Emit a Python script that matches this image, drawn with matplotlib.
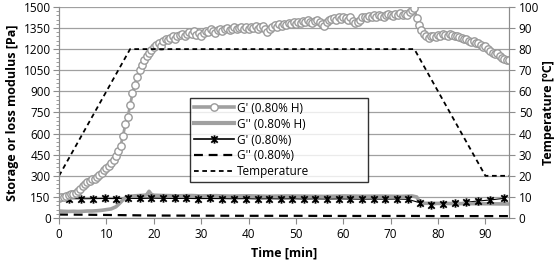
import numpy as np
import matplotlib
matplotlib.use("Agg")
import matplotlib.pyplot as plt
from matplotlib.path import Path
from matplotlib.lines import Line2D

# G' (0.80% H), sampled every 0.5 min from 0 to 95 min
gp_h_step = 0.5
gp_h = [140, 148, 152, 158, 163, 168, 172, 178, 190, 205,
        225, 240, 255, 265, 275, 280, 290, 305, 320, 340,
        355, 372, 390, 410, 440, 475, 515, 585, 665, 720,
        800, 885, 945, 1005, 1050, 1090, 1125, 1150, 1170, 1195,
        1215, 1230, 1245, 1225, 1255, 1270, 1262, 1280, 1290, 1275,
        1295, 1300, 1310, 1290, 1305, 1320, 1310, 1330, 1300, 1315,
        1290, 1315, 1330, 1320, 1340, 1330, 1315, 1335, 1345, 1330,
        1340, 1350, 1335, 1345, 1355, 1340, 1350, 1360, 1345, 1355,
        1340, 1360, 1350, 1365, 1345, 1355, 1365, 1340, 1320, 1345,
        1360, 1370, 1355, 1375, 1365, 1380, 1370, 1385, 1375, 1390,
        1380, 1395, 1385, 1400, 1390, 1405, 1395, 1385, 1400, 1410,
        1395, 1380, 1365, 1390, 1405, 1415, 1420, 1410, 1425, 1415,
        1430, 1420, 1410, 1425, 1400, 1385, 1395, 1410, 1425, 1430,
        1420, 1435, 1425, 1440, 1430, 1445, 1435, 1425, 1440, 1450,
        1440, 1435, 1450, 1440, 1455, 1445, 1450, 1440, 1460, 1475,
        1490, 1420, 1370, 1335, 1310, 1295, 1280, 1290, 1295, 1285,
        1300, 1295, 1305, 1300, 1295, 1305, 1300, 1290, 1295, 1285,
        1280, 1270, 1275, 1260, 1250, 1255, 1240, 1245, 1230, 1215,
        1225, 1200, 1190, 1175, 1165, 1170, 1150, 1140, 1130, 1125,
        1120]

# G'' (0.80% H)
gpp_h_t = [0, 1, 2, 3, 4, 5, 6, 7, 8, 9, 10, 11, 12, 12.5, 13, 13.5, 14, 14.5,
           15, 16, 17, 18, 18.5, 19, 19.5, 20, 22, 25, 28, 30, 33, 36, 40, 44,
           48, 52, 56, 60, 64, 68, 72, 74.5, 75.5, 76, 76.5, 77, 80, 84, 88,
           92, 95]
gpp_h = [50, 48, 47, 48, 47, 48, 50, 50, 52, 55, 60, 65, 80, 95, 112, 130, 145,
         150, 155, 158, 160, 162, 165, 190, 168, 162, 160, 158, 160, 157, 159,
         156, 158, 155, 157, 156, 154, 157, 155, 156, 154, 157, 150, 120, 110,
         105, 104, 103, 102, 101, 100]

# G' (0.80%)
gp_t = [2.0, 4.7, 7.2, 9.7, 12.1, 14.6, 17.1, 19.5, 21.9, 24.4, 26.9, 29.3,
        31.8, 34.3, 36.9, 39.4, 41.9, 44.3, 46.8, 49.2, 51.7, 54.1, 56.6, 59.0,
        61.5, 63.9, 66.4, 68.8, 71.3, 73.7, 76.1, 78.6, 81.1, 83.5, 86.0, 88.4,
        90.9, 93.9]
gp = [138, 137, 138, 139, 138, 140, 139, 141, 140, 139, 140, 138, 139, 138,
      137, 138, 136, 137, 136, 137, 135, 136, 135, 136, 135, 134, 135, 134,
      135, 133, 109, 94, 100, 106, 113, 121, 128, 140]

# G'' (0.80%)
gpp_t = [0, 5, 10, 20, 30, 40, 50, 60, 70, 75, 80, 90, 95]
gpp = [25, 24, 22, 18, 17, 16, 16, 15, 15, 15, 14, 14, 14]

# Temperature
temp_t = [0, 15, 75, 90, 95]
temp = [20, 80, 80, 20, 20]

gray = "#a0a0a0"
axcol = "#8c8c8c"
plt.rcParams['font.family'] = ['Open Sans', 'DejaVu Sans']

fig = plt.figure(figsize=(5.57, 2.64), dpi=100)
ax = fig.add_axes([0.106, 0.174, 0.808, 0.800])
ax2 = ax.twinx()
ax2.set_position(ax.get_position())

t_h = np.arange(len(gp_h)) * gp_h_step

# asterisk marker: x with a vertical bar
ast = Path([(-1, -1), (1, 1), (-1, 1), (1, -1), (0, -1.3), (0, 1.3)],
           [Path.MOVETO, Path.LINETO, Path.MOVETO, Path.LINETO, Path.MOVETO, Path.LINETO])

ax.plot(gpp_t, gpp, color="black", lw=1.6, dashes=(4, 2.6), zorder=2)
ax.plot(gp_t, gp, color="black", lw=0.8, zorder=2)
ax.plot(gpp_h_t, gpp_h, color=gray, lw=2.6, zorder=3, solid_capstyle="round")
ax.plot(gp_t, gp, ls="none", marker=ast, ms=6, mec="black", mew=1.3, zorder=4)
ax.plot(t_h, gp_h, color=gray, lw=2, marker="o", ms=5.3, mfc="white", mec="#9a9a9a",
        mew=1, zorder=5)
ax2.plot(temp_t, temp, color="black", lw=1.3, dashes=(2.6, 2), zorder=2)

ax.set_xlim(0, 95)
ax.set_ylim(0, 1500)
ax2.set_ylim(0, 100)
ax.set_xticks(np.arange(0, 91, 10))
ax.set_yticks(np.arange(0, 1501, 150))
ax.set_yticks(np.arange(0, 1501, 30), minor=True)
ax2.set_yticks(np.arange(0, 101, 10))
ax.grid(axis="y", color=gray, lw=0.9)
ax.set_axisbelow(True)

for a in (ax, ax2):
    for s in a.spines.values():
        s.set_color(axcol)
    a.spines["top"].set_visible(False)
    a.tick_params(axis="both", which="both", colors=axcol, labelcolor="black",
                  labelsize=8.5, direction="out")
ax.tick_params(axis="y", which="major", length=4, pad=2)
ax.tick_params(axis="y", which="minor", length=2)
ax.tick_params(axis="x", length=4, pad=3)
ax2.tick_params(axis="y", length=4, pad=3)

ax.set_xlabel("Time [min]", fontsize=9, fontweight="bold", labelpad=4)
ax.set_ylabel("Storage or loss modulus [Pa]", fontsize=9, fontweight="bold", labelpad=3)
ax2.set_ylabel("Temperature [ºC]", fontsize=9, fontweight="bold", labelpad=2)

handles = [
    Line2D([], [], color=gray, lw=2.6, marker="o", ms=5.3, mfc="white", mec="#9a9a9a", mew=1),
    Line2D([], [], color=gray, lw=3),
    Line2D([], [], color="black", lw=1.2, marker=ast, ms=6, mew=1.3),
    Line2D([], [], color="black", lw=1.6, dashes=(4, 2.6)),
    Line2D([], [], color="black", lw=1.3, dashes=(2.6, 2)),
]
labels = ["G' (0.80% H)", "G'' (0.80% H)", "G' (0.80%)", "G'' (0.80%)", "Temperature"]
leg = ax2.legend(handles, labels, loc="lower left", bbox_to_anchor=(0.291, 0.171, 0.396, 0.402),
                 mode="expand", fontsize=8.5, frameon=True, fancybox=False, edgecolor="black",
                 handlelength=3.4, handletextpad=0.3, labelspacing=0.25, borderpad=0.3,
                 borderaxespad=0)
leg.get_frame().set_linewidth(1.0)
leg.set_zorder(10)

fig.savefig("out.png", dpi=100)
